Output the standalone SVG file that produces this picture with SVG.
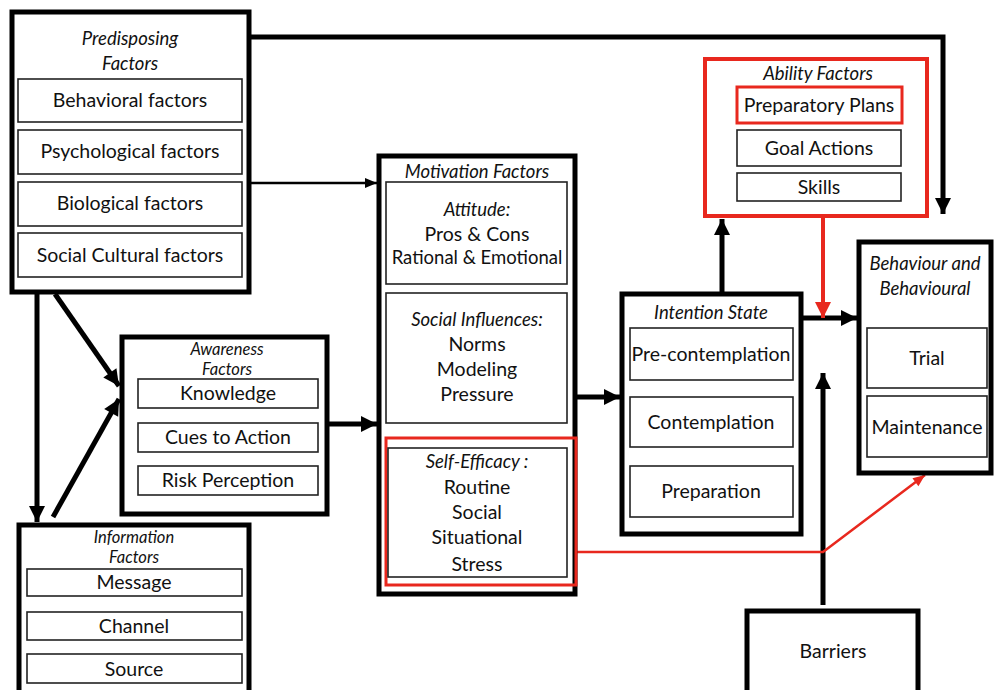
<svg xmlns="http://www.w3.org/2000/svg" width="1000" height="690" viewBox="0 0 1000 690">
<style>
.outer{fill:#fff;stroke:#000;stroke-width:5}
.inner{fill:#fff;stroke:#222;stroke-width:1.6}
.redo{fill:none;stroke:#e8281e;stroke-width:4}
.redi{fill:none;stroke:#e8281e;stroke-width:3}
text{font-family:"Lato","Liberation Sans",sans-serif;fill:#111;text-anchor:middle}
.t{font-size:19.5px}
.h{font-size:18.5px;font-style:italic}
.hs{font-size:16.5px;font-style:italic}
.conn{fill:none;stroke:#000}
.rconn{fill:none;stroke:#e8281e}
</style>
<defs>
<marker id="ab" markerUnits="userSpaceOnUse" markerWidth="20" markerHeight="20" viewBox="0 0 20 20" refX="18" refY="10" orient="auto"><path d="M2,2 L18,10 L2,18 z" fill="#000"/></marker>
<marker id="abs" markerUnits="userSpaceOnUse" markerWidth="14" markerHeight="14" viewBox="0 0 14 14" refX="13" refY="7" orient="auto"><path d="M1,2 L13,7 L1,12 z" fill="#000"/></marker>
<marker id="ar" markerUnits="userSpaceOnUse" markerWidth="20" markerHeight="20" viewBox="0 0 20 20" refX="18" refY="10" orient="auto"><path d="M2,2 L18,10 L2,18 z" fill="#e8281e"/></marker>
<marker id="ars" markerUnits="userSpaceOnUse" markerWidth="14" markerHeight="14" viewBox="0 0 14 14" refX="13" refY="7" orient="auto"><path d="M1,2 L13,7 L1,12 z" fill="#e8281e"/></marker>
</defs>

<g id="connectors">
<polyline class="conn" stroke-width="5" points="249,37 943,37 943,214" marker-end="url(#ab)"/>
<line class="conn" stroke-width="2.5" x1="249" y1="183" x2="377" y2="183" marker-end="url(#abs)"/>
<line class="conn" stroke-width="5" x1="37" y1="294" x2="37" y2="522" marker-end="url(#ab)"/>
<line class="conn" stroke-width="5" x1="55" y1="294" x2="119" y2="386" marker-end="url(#ab)"/>
<line class="conn" stroke-width="5" x1="53" y1="517" x2="119" y2="399" marker-end="url(#ab)"/>
<line class="conn" stroke-width="5" x1="327" y1="424" x2="377" y2="424" marker-end="url(#ab)"/>
<line class="conn" stroke-width="5" x1="575" y1="397" x2="620" y2="397" marker-end="url(#ab)"/>
<line class="conn" stroke-width="5" x1="722" y1="294" x2="722" y2="219" marker-end="url(#ab)"/>
<line class="conn" stroke-width="5" x1="801" y1="318" x2="857" y2="318" marker-end="url(#ab)"/>
<line class="rconn" stroke-width="4" x1="823" y1="216" x2="823" y2="318" marker-end="url(#ar)"/>
<line class="conn" stroke-width="5" x1="823" y1="605" x2="823" y2="373" marker-end="url(#ab)"/>
<polyline class="rconn" stroke-width="2.5" points="576,552 823,552 925,475" marker-end="url(#ars)"/>
</g>

<g id="predisposing">
<rect class="outer" x="12" y="12" width="237" height="280"/>
<text class="h" x="130" y="45">Predisposing</text>
<text class="h" x="130" y="70">Factors</text>
<rect class="inner" x="18" y="79" width="224" height="43"/>
<text class="t" x="130" y="107">Behavioral factors</text>
<rect class="inner" x="18" y="130" width="224" height="44"/>
<text class="t" x="130" y="158">Psychological factors</text>
<rect class="inner" x="18" y="182" width="224" height="44"/>
<text class="t" x="130" y="210">Biological factors</text>
<rect class="inner" x="18" y="233" width="224" height="44"/>
<text class="t" x="130" y="262">Social Cultural factors</text>
</g>

<g id="awareness">
<rect class="outer" x="122" y="337" width="205" height="177"/>
<text class="hs" x="227" y="355">Awareness</text>
<text class="hs" x="227" y="375">Factors</text>
<rect class="inner" x="138" y="379" width="180" height="29"/>
<text class="t" x="228" y="400">Knowledge</text>
<rect class="inner" x="138" y="423" width="180" height="29"/>
<text class="t" x="228" y="444">Cues to Action</text>
<rect class="inner" x="138" y="466" width="180" height="29"/>
<text class="t" x="228" y="487">Risk Perception</text>
</g>

<g id="information">
<rect class="outer" x="19" y="525" width="230" height="170"/>
<text class="hs" x="134" y="543">Information</text>
<text class="hs" x="134" y="563">Factors</text>
<rect class="inner" x="27" y="569" width="215" height="27"/>
<text class="t" x="134" y="589">Message</text>
<rect class="inner" x="27" y="612" width="215" height="28"/>
<text class="t" x="134" y="633">Channel</text>
<rect class="inner" x="27" y="654" width="215" height="29"/>
<text class="t" x="134" y="676">Source</text>
</g>

<g id="motivation">
<rect class="outer" x="379" y="156" width="196" height="438"/>
<text class="h" x="477" y="178">Motivation Factors</text>
<rect class="inner" x="386" y="182" width="181" height="102"/>
<text class="h" x="477" y="216">Attitude:</text>
<text class="t" x="477" y="241">Pros &amp; Cons</text>
<text class="t" x="477" y="264" style="font-size:18.5px">Rational &amp; Emotional</text>
<rect class="inner" x="386" y="293" width="181" height="130"/>
<text class="h" x="477" y="326">Social Influences:</text>
<text class="t" x="477" y="351">Norms</text>
<text class="t" x="477" y="376">Modeling</text>
<text class="t" x="477" y="401">Pressure</text>
<rect class="redi" x="386" y="438" width="190" height="147"/>
<rect class="inner" x="388" y="448" width="179" height="129"/>
<text class="h" x="477" y="468">Self-Efficacy :</text>
<text class="t" x="477" y="494">Routine</text>
<text class="t" x="477" y="519">Social</text>
<text class="t" x="477" y="544">Situational</text>
<text class="t" x="477" y="571">Stress</text>
</g>

<g id="intention">
<rect class="outer" x="622" y="294" width="179" height="240"/>
<text class="h" x="711" y="319">Intention State</text>
<rect class="inner" x="630" y="328" width="163" height="52"/>
<text class="t" x="711" y="361">Pre-contemplation</text>
<rect class="inner" x="630" y="397" width="163" height="50"/>
<text class="t" x="711" y="429">Contemplation</text>
<rect class="inner" x="630" y="466" width="163" height="51"/>
<text class="t" x="711" y="498">Preparation</text>
</g>

<g id="ability">
<rect x="705" y="59" width="222" height="157" fill="#fff"/>
<rect class="redo" x="705" y="59" width="222" height="157"/>
<text class="h" x="818" y="80">Ability Factors</text>
<rect x="737" y="87" width="165" height="36" fill="#fff"/>
<rect class="redi" x="737" y="87" width="165" height="36"/>
<text class="t" x="819" y="112">Preparatory Plans</text>
<rect class="inner" x="737" y="130" width="164" height="36"/>
<text class="t" x="819" y="155">Goal Actions</text>
<rect class="inner" x="737" y="173" width="164" height="28"/>
<text class="t" x="819" y="194">Skills</text>
</g>

<g id="behaviour">
<rect class="outer" x="859" y="242" width="132" height="231"/>
<text class="h" x="925" y="270">Behaviour and</text>
<text class="h" x="925" y="295">Behavioural</text>
<rect class="inner" x="867" y="328" width="120" height="60"/>
<text class="t" x="927" y="365">Trial</text>
<rect class="inner" x="867" y="396" width="120" height="61"/>
<text class="t" x="927" y="434">Maintenance</text>
</g>

<g id="barriers">
<rect class="outer" x="747" y="611" width="171" height="90"/>
<text class="t" x="833" y="658">Barriers</text>
</g>
</svg>
